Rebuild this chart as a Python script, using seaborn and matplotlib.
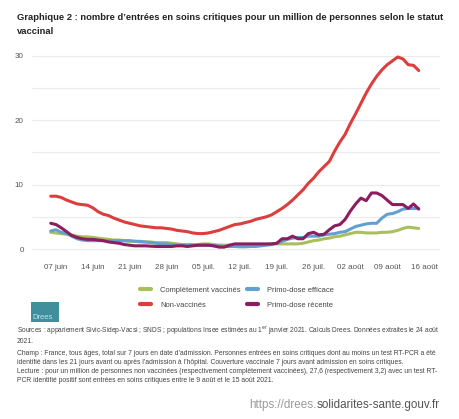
import pandas as pd
import numpy as np
import matplotlib
matplotlib.use('Agg')
import matplotlib.pyplot as plt
import matplotlib.dates as mdates
from matplotlib.patches import Rectangle
import seaborn as sns

# Données (du 06 juin au 15 août 2021)
debut = '2021-06-06'
non_vaccines = [8.2, 8.2, 8.0, 7.6, 7.3, 7.0, 6.9, 6.8, 6.4, 5.8,
                5.4, 5.2, 4.8, 4.5, 4.2, 4.0, 3.8, 3.6, 3.5, 3.4,
                3.3, 3.3, 3.2, 3.1, 2.9, 2.8, 2.7, 2.5, 2.4, 2.4,
                2.5, 2.7, 2.9, 3.2, 3.5, 3.8, 3.9, 4.1, 4.3, 4.6,
                4.8, 5.0, 5.3, 5.8, 6.3, 6.9, 7.6, 8.4, 9.2, 10.2,
                11.0, 12.0, 12.8, 13.6, 15.2, 16.6, 17.8, 19.5, 21.0, 22.6,
                24.2, 25.6, 26.8, 27.8, 28.6, 29.2, 29.8, 29.5, 28.6, 28.5,
                27.7]
completement_vaccines = [2.6, 2.5, 2.4, 2.3, 2.2, 2.0, 1.9, 1.9, 1.8, 1.7,
                         1.6, 1.5, 1.4, 1.4, 1.3, 1.2, 1.2, 1.1, 1.1, 1.1,
                         1.0, 1.0, 1.0, 0.9, 0.8, 0.7, 0.7, 0.7, 0.7, 0.8,
                         0.8, 0.7, 0.6, 0.6, 0.6, 0.6, 0.6, 0.6, 0.6, 0.6,
                         0.7, 0.7, 0.8, 0.8, 0.8, 0.8, 0.8, 0.8, 0.9, 1.1,
                         1.3, 1.4, 1.6, 1.7, 1.9, 2.0, 2.2, 2.4, 2.6, 2.6,
                         2.5, 2.5, 2.5, 2.6, 2.6, 2.7, 2.9, 3.2, 3.4, 3.3,
                         3.2]
primo_efficace = [2.8, 3.0, 2.6, 2.4, 2.0, 1.6, 1.4, 1.3, 1.3, 1.3,
                  1.3, 1.3, 1.3, 1.3, 1.3, 1.3, 1.2, 1.2, 1.1, 1.0,
                  0.9, 0.8, 0.8, 0.7, 0.6, 0.6, 0.6, 0.6, 0.6, 0.6,
                  0.6, 0.5, 0.5, 0.4, 0.4, 0.4, 0.35, 0.35, 0.4, 0.4,
                  0.5, 0.6, 0.7, 0.9, 1.2, 1.5, 1.7, 1.8, 1.8, 2.0,
                  2.0, 2.0, 2.2, 2.3, 2.4, 2.6, 2.7, 3.1, 3.5, 3.7,
                  3.9, 4.0, 4.0, 4.8, 5.4, 5.5, 5.8, 6.2, 6.3, 6.3,
                  6.3]
primo_recente = [4.0, 3.8, 3.3, 2.7, 2.1, 1.8, 1.6, 1.5, 1.5, 1.4,
                 1.3, 1.1, 1.0, 0.9, 0.7, 0.6, 0.5, 0.5, 0.5, 0.45,
                 0.4, 0.4, 0.4, 0.4, 0.5, 0.5, 0.4, 0.5, 0.6, 0.6,
                 0.6, 0.5, 0.3, 0.3, 0.6, 0.8, 0.8, 0.8, 0.8, 0.8,
                 0.8, 0.8, 0.8, 0.9, 1.6, 1.6, 2.0, 1.6, 1.6, 2.4,
                 2.6, 2.2, 2.3, 3.0, 3.6, 3.8, 4.6, 5.9, 7.0, 7.9,
                 7.5, 8.7, 8.7, 8.3, 7.6, 6.9, 6.9, 6.9, 6.3, 7.0,
                 6.2]

series = {
    'Complètement vaccinés': completement_vaccines,
    'Non-vaccinés': non_vaccines,
    'Primo-dose efficace': primo_efficace,
    'Primo-dose récente': primo_recente,
}
couleurs = {
    'Complètement vaccinés': '#a9bf5c',
    'Non-vaccinés': '#dc3d3d',
    'Primo-dose efficace': '#62a0d2',
    'Primo-dose récente': '#8c1d5e',
}
tick_dates = pd.date_range('2021-06-07', periods=11, freq='7D')
tick_labels = ['07 juin', '14 juin', '21 juin', '28 juin', '05 juil.', '12 juil.',
               '19 juil.', '26 juil.', '02 août', '09 août', '16 août']

titre_l1 = "Graphique 2 : nombre d’entrées en soins critiques pour un million de personnes selon le statut"
titre_l2 = "vaccinal"
notes = [
    ("Sources : appariement Sivic-Sidep-Vacsi ; SNDS ; populations Insee estimées au 1$^{\\mathrm{er}}$ janvier 2021. Calculs Drees. Données extraites le 24 août", True, 333),
    ("2021.", False, 342.5),
    ("Champ : France, tous âges, total sur 7 jours en date d’admission. Personnes entrées en soins critiques dont au moins un test RT-PCR a été", True, 355),
    ("identifié dans les 21 jours avant ou après l’admission à l’hôpital. Couverture vaccinale 7 jours avant admission en soins critiques.", False, 363.5),
    ("Lecture : pour un million de personnes non vaccinées (respectivement complètement vaccinées), 27,6 (respectivement 3,2) avec un test RT-", True, 373),
    ("PCR identifié positif sont entrées en soins critiques entre le 9 août et le 15 août 2021.", False, 381.5),
]

# Table longue pour seaborn
dates = pd.date_range(debut, periods=len(non_vaccines), freq='D')
df = pd.concat([pd.DataFrame({'date': dates, 'valeur': v, 'statut': k})
                for k, v in series.items()], ignore_index=True)

sns.set_theme(style='white')
plt.rcParams['font.family'] = ['Liberation Sans', 'DejaVu Sans']

W, H = 460, 419
fig = plt.figure(figsize=(W / 100, H / 100), dpi=100)
fig.patch.set_facecolor('white')

def px(x, y):
    return x / W, 1 - y / H

ax = fig.add_axes([32 / W, 1 - 255.5 / H, 408 / W, 201.1 / H])
sns.lineplot(data=df, x='date', y='valeur', hue='statut', hue_order=list(series),
             palette=couleurs, linewidth=2.2, ax=ax, legend=True)

# Axes
x07 = mdates.date2num(pd.Timestamp('2021-06-07'))
ax.set_xlim(x07 - 24 / 5.257, x07 + 384 / 5.257)
ax.set_ylim(-1, 30.2)
ax.set_yticks([0, 5, 10, 15, 20, 25, 30])
ax.set_yticklabels(['0', '', '10', '', '20', '', '30'])
ax.set_xticks(tick_dates)
ax.set_xticklabels(tick_labels)
ax.tick_params(axis='both', length=0, labelsize=5.8, labelcolor='#555555')
ax.tick_params(axis='y', pad=6)
ax.tick_params(axis='x', pad=6)
ax.grid(axis='y', color='#ebebeb', linewidth=0.8)
ax.set_xlabel('')
ax.set_ylabel('')
for s in ax.spines.values():
    s.set_visible(False)

# Légende
handles, labels = ax.get_legend_handles_labels()
ax.get_legend().remove()
leg = fig.legend(handles, labels, ncol=2, loc='center', bbox_to_anchor=px(237, 297.5),
                 frameon=False, fontsize=5.4, handlelength=1.5, handletextpad=1.2,
                 columnspacing=0.8, labelspacing=1.0, labelcolor='#444444')
for l in leg.get_lines():
    l.set_linewidth(3)

renderer = fig.canvas.get_renderer()

def ligne_pleine(texte, y, x0, x1, fs, **kw):
    # ligne justifiée : taille ajustée pour occuper toute la largeur
    t = fig.text(x0 / W, 1 - y / H, texte, fontsize=fs, va='baseline', ha='left', **kw)
    w = t.get_window_extent(renderer).width
    fs2 = fs * (x1 - x0) / w
    t.set_fontsize(fs2)
    return fs2

# Titre
fs_titre = ligne_pleine(titre_l1, 20, 17, 444, 7, fontweight='bold', color='#222222')
fig.text(17 / W, 1 - 34 / H, titre_l2, va='baseline', ha='left', fontsize=fs_titre,
         fontweight='bold', color='#222222')

# Notes
tailles = []
for texte, justif, y in notes:
    if justif:
        tailles.append(ligne_pleine(texte, y, 17, 444, 5, color='#444444'))
fs_notes = float(np.mean(tailles))
for texte, justif, y in notes:
    if not justif:
        fig.text(17 / W, 1 - y / H, texte, va='baseline', ha='left', fontsize=fs_notes,
                 color='#444444')

# Logo Drees
fig.patches.append(Rectangle(px(31, 322), 28 / W, 20 / H, transform=fig.transFigure,
                             facecolor='#3f8f9c', edgecolor='none'))
fig.text(*px(32.5, 317), 'Drees', fontsize=5.5, color='#bfe6f0', va='center', ha='left')

# Adresse du site
t2 = fig.text(*px(440, 405), 'solidarites-sante.gouv.fr', fontsize=8.4, color='#555555',
              ha='right', va='center')
x_gauche = t2.get_window_extent(renderer).x0
fig.text(x_gauche / W, 1 - 405 / H, 'https://drees.', fontsize=8.4, color='#9a9a9a',
         ha='right', va='center')

fig.savefig('out.png', dpi=100)
